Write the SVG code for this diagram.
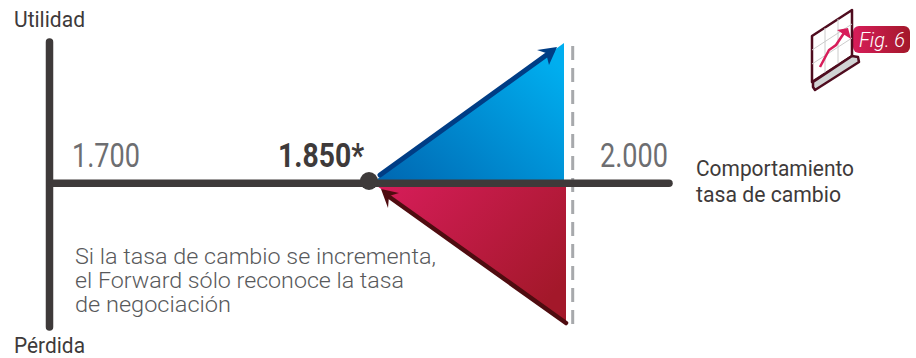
<svg xmlns="http://www.w3.org/2000/svg" width="916" height="358" viewBox="0 0 916 358">
<style>
text{font-family:Roboto,"Liberation Sans",sans-serif}
.lab{font-size:22.500px;fill:#3e3a3a;font-weight:400}
.val{font-size:33px;fill:#6d6e71;font-weight:400}
.note{font-size:22px;fill:#58595b;font-weight:300}
</style>
<defs>
<linearGradient id="blue" x1="0" y1="1" x2="1" y2="0.2"><stop offset="0" stop-color="#0067b1"/><stop offset="1" stop-color="#00aeef"/></linearGradient>
<linearGradient id="red" x1="0" y1="0" x2="1" y2="0.7"><stop offset="0" stop-color="#d71d5a"/><stop offset="1" stop-color="#a3182a"/></linearGradient>
<linearGradient id="tag" x1="0" y1="0" x2="1" y2="0"><stop offset="0" stop-color="#d71d5a"/><stop offset="1" stop-color="#a3182a"/></linearGradient>
</defs>
<g id="areas">
<polygon points="376,180 564,43 564,180" fill="url(#blue)"/>
<polygon points="377,186 566,186 566,323" fill="url(#red)"/>
<line x1="572.700" y1="46" x2="572.700" y2="325" stroke="#a7a9ac" stroke-width="3" stroke-dasharray="14 8"/>
</g>
<g id="connectors">
<line x1="49.500" y1="42" x2="49.500" y2="327" stroke="#3e3a3a" stroke-width="7.500" stroke-linecap="round"/>
<line x1="50" y1="183.300" x2="669" y2="183.300" stroke="#3e3a3a" stroke-width="7.500" stroke-linecap="round"/>
<line x1="380" y1="175" x2="552" y2="51" stroke="#003d85" stroke-width="5" stroke-linecap="round"/>
<polygon points="557,47 537,50 546,53 549,65" fill="#003d85"/>
<line x1="566" y1="323" x2="388" y2="196" stroke="#4f0c10" stroke-width="4.500" stroke-linecap="round"/>
<polygon points="381,189 399,193 389,196 388,208" fill="#4f0c10"/>
</g>
<g id="origin"><circle cx="369" cy="181" r="9" fill="#3e3a3a"/></g>
<g id="labels">
<text class="lab" x="14" y="26.700" textLength="71" lengthAdjust="spacingAndGlyphs">Utilidad</text>
<text class="lab" x="14" y="352.500" textLength="71" lengthAdjust="spacingAndGlyphs">Pérdida</text>
<text class="val" x="72" y="166.700" textLength="68" lengthAdjust="spacingAndGlyphs">1.700</text>
<text class="val" x="278" y="166.700" textLength="86" lengthAdjust="spacingAndGlyphs" style="font-weight:700;fill:#3e3a3a">1.850*</text>
<text class="val" x="600" y="166.700" textLength="68" lengthAdjust="spacingAndGlyphs">2.000</text>
<text class="lab" x="696" y="175.500" textLength="158" lengthAdjust="spacingAndGlyphs">Comportamiento</text>
<text class="lab" x="696" y="202" textLength="145" lengthAdjust="spacingAndGlyphs">tasa de cambio</text>
<text class="note" x="75" y="263.500" textLength="361" lengthAdjust="spacingAndGlyphs">Si la tasa de cambio se incrementa,</text>
<text class="note" x="75" y="288" textLength="329" lengthAdjust="spacingAndGlyphs">el Forward sólo reconoce la tasa</text>
<text class="note" x="75" y="312" textLength="156" lengthAdjust="spacingAndGlyphs">de negociación</text>
</g>
<g id="fig-icon">
<rect x="853" y="26" width="57" height="27" rx="6" fill="url(#tag)"/>
<text x="859" y="46.500" font-size="20" font-style="italic" font-weight="300" fill="#fff" textLength="46" lengthAdjust="spacingAndGlyphs">Fig. 6</text>
<polygon points="812,36 852,10 852,56 812,82" fill="#fff" stroke="#4f0c1f" stroke-width="2.500" stroke-linejoin="round"/>
<path d="M812 50 852 24M812 64 852 38M825 28V74M838 19V65" stroke="#ccc" stroke-width="1" fill="none"/>
<polyline points="820,67 829,50 836,45 844,33" fill="none" stroke="#d71d5a" stroke-width="2.500"/>
<polygon points="848,28 837,30 851,39" fill="#d71d5a"/>
<polygon points="813,82 852,56 858,57 859,62 815,90 813,87" fill="#d1d3d4" stroke="#4f0c1f" stroke-width="2.500" stroke-linejoin="round"/>
</g>
</svg>
